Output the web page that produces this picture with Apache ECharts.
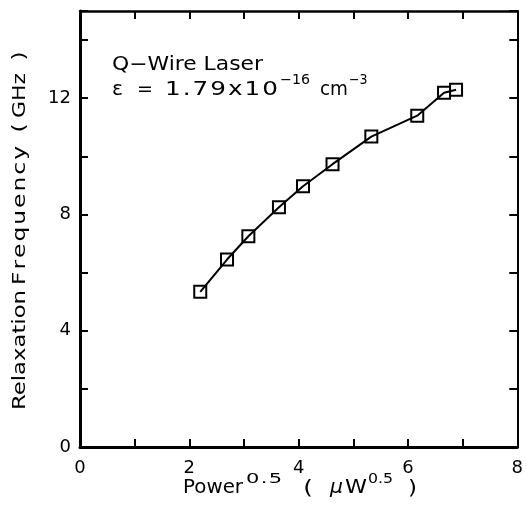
<!DOCTYPE html>
<html><head><meta charset="utf-8">
<script src="https://cdn.jsdelivr.net/npm/echarts@6/dist/echarts.min.js"></script>
<style>html,body{margin:0;padding:0;background:#fff}#c{width:526px;height:507px}</style>
</head><body><div id="c"></div>
<script>
const powerSqrt = [2.20, 2.69, 3.08, 3.64, 4.08, 4.62, 5.33, 6.17, 6.66, 6.88];
const relaxFreq = [5.34, 6.45, 7.25, 8.25, 8.97, 9.73, 10.68, 11.40, 12.19, 12.29];
const xTickLabels = ['0', '2', '4', '6', '8'];
const yTickLabels = ['0', '4', '8', '12'];

const FAM = '"DejaVu Sans"';
const mctx = document.createElement('canvas').getContext('2d');
function measure(s, font) { mctx.font = font; return mctx.measureText(s).width; }

// place text stretched/spaced between x0 and x1 (local coords), baseline y
function fit(list, str, x0, x1, base, size, opt) {
  opt = opt || {};
  const font = (opt.italic ? 'italic ' : '') + size + 'px ' + FAM;
  const chars = Array.from(str);
  const natural = measure(str, font);
  const target = x1 - x0;
  const sx = Math.max(0.9, Math.min(target / natural, opt.maxSx || 1.3));
  const desc = 0.236 * size;
  const mk = (t, x) => ({type: 'text', x: x, y: base + desc, scaleX: sx, silent: true,
    style: {text: t, font: font, fill: '#000', align: 'left', verticalAlign: 'bottom'}});
  if (chars.length === 1) { list.push(mk(str, (x0 + x1 - natural * sx) / 2)); return; }
  const rem = target - natural * sx;
  if (Math.abs(rem) < 1) { list.push(mk(str, x0)); return; }
  const ws = chars.map(c => measure(c, font) * sx);
  const ls = (target - ws.reduce((a, b) => a + b, 0)) / (chars.length - 1);
  let x = x0;
  chars.forEach((c, i) => {
    if (c !== ' ') list.push(mk(c, x));
    x += ws[i] + ls;
  });
}

const chart = echarts.init(document.getElementById('c'), null, {renderer: 'canvas'});
const data = powerSqrt.map((x, i) => [x, relaxFreq[i]]);
function axis(extra, lw) {
  return Object.assign({
    type: 'value',
    axisLine: {show: true, onZero: false, lineStyle: {color: '#000', width: lw}},
    axisTick: {show: true, inside: true, length: 8, lineStyle: {color: '#000', width: 2}},
    splitLine: {show: false}
  }, extra);
}

const g = [];
fit(g, 'Q\u2212Wire Laser', 112, 263, 70, 19);
fit(g, '\u03b5', 112, 123, 95, 19);
fit(g, '=', 137, 153, 95, 19);
fit(g, '1.79x10', 165, 278, 95, 19);
fit(g, '\u221216', 280, 310, 84, 14, {maxSx: 1.4});
fit(g, 'cm', 320, 348, 95, 19);
fit(g, '\u22123', 349, 367, 84, 14, {maxSx: 1.4});

fit(g, 'Power', 183, 243, 493, 19);
fit(g, '0.5', 246, 282, 483, 14, {maxSx: 1.5});
fit(g, '(', 303, 313, 494, 19);
fit(g, '\u03bc', 330, 343, 493, 19, {italic: true});
fit(g, 'W', 345, 367, 493, 19);
fit(g, '0.5', 368, 393, 483, 14, {maxSx: 1.5});
fit(g, ')', 408, 417, 494, 19);

const yt = [];
fit(yt, 'Relaxation', 0, 120, 0, 18);
fit(yt, 'Frequency', 125, 264, 0, 18);
fit(yt, '(', 277, 287, 0, 18);
fit(yt, 'GHz', 292, 337, 0, 18);
fit(yt, ')', 348, 360, 0, 18);
g.push({type: 'group', x: 25, y: 410, rotation: Math.PI / 2, children: yt});

chart.setOption({
  animation: false,
  backgroundColor: '#fff',
  grid: {left: 80, right: 5, top: 11, bottom: 60},
  xAxis: [
    axis({min: 0, max: 8, interval: 1, position: 'bottom',
      axisLabel: {color: '#000', fontFamily: 'DejaVu Sans', fontSize: 18, margin: 12,
        formatter: v => xTickLabels.includes(String(v)) ? String(v) : ''}}, 3),
    axis({min: 0, max: 8, interval: 1, position: 'top', axisLabel: {show: false}}, 2.5)
  ],
  yAxis: [
    axis({min: 0, max: 15, interval: 2, position: 'left',
      axisLabel: {color: '#000', fontFamily: 'DejaVu Sans', fontSize: 18, margin: 9,
        formatter: v => yTickLabels.includes(String(v)) ? String(v) : ''}}, 3),
    axis({min: 0, max: 15, interval: 2, position: 'right', axisLabel: {show: false}}, 2)
  ],
  series: [{
    type: 'line',
    data: data,
    symbol: 'rect',
    symbolSize: 12,
    lineStyle: {color: '#000', width: 2},
    itemStyle: {color: 'rgba(0,0,0,0)', borderColor: '#000', borderWidth: 2},
    z: 3
  }],
  graphic: g
});
</script>
</body></html>
